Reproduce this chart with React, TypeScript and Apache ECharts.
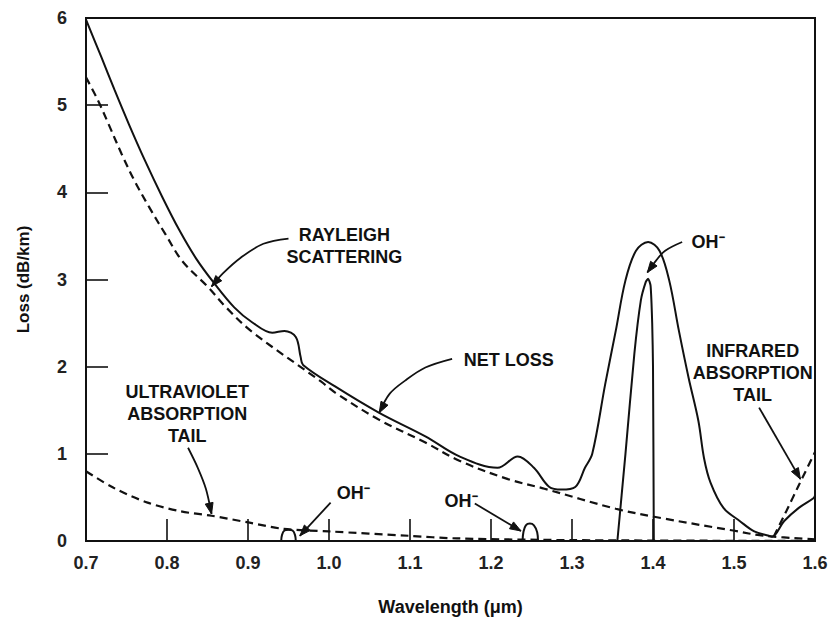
import React, { useEffect, useRef } from "react";
import * as echarts from "echarts";

type P = [number, number];

const X_MIN = 0.7;
const X_MAX = 1.6;
const X_STEP = 0.1;
const Y_MIN = 0;
const Y_MAX = 6;
const Y_STEP = 1;

const X_NAME = "Wavelength (μm)";
const Y_NAME = "Loss (dB/km)";

// Net loss (solid)
const netLoss: P[] = [
  [0.7, 5.98], [0.719, 5.55], [0.735, 5.18], [0.753, 4.78], [0.773, 4.36],
  [0.794, 3.95], [0.815, 3.57], [0.836, 3.24], [0.858, 2.96], [0.883, 2.68],
  [0.905, 2.51], [0.93, 2.39], [0.945, 2.41], [0.959, 2.34], [0.965, 2.11],
  [0.968, 2.02], [1.008, 1.77], [1.062, 1.47], [1.119, 1.2], [1.161, 0.97],
  [1.208, 0.84], [1.233, 0.97], [1.253, 0.84], [1.272, 0.62], [1.287, 0.59],
  [1.304, 0.62], [1.316, 0.84], [1.325, 1.0], [1.341, 1.8], [1.354, 2.41],
  [1.366, 2.99], [1.379, 3.33], [1.394, 3.43], [1.408, 3.33], [1.42, 2.99],
  [1.432, 2.41], [1.444, 1.87], [1.456, 1.38], [1.463, 0.95], [1.471, 0.67],
  [1.487, 0.38], [1.507, 0.23], [1.525, 0.11], [1.543, 0.06], [1.547, 0.05],
  [1.562, 0.23], [1.58, 0.38], [1.598, 0.49], [1.6, 0.52],
];

// Rayleigh scattering (dashed)
const rayleigh: P[] = [
  [0.7, 5.32], [0.715, 5.05], [0.728, 4.78], [0.744, 4.44], [0.76, 4.13],
  [0.778, 3.83], [0.798, 3.52], [0.819, 3.21], [0.851, 2.91], [0.873, 2.68],
  [0.905, 2.4], [0.99, 1.83], [1.008, 1.7], [1.062, 1.39], [1.119, 1.13],
  [1.161, 0.92], [1.221, 0.71], [1.266, 0.6], [1.354, 0.37], [1.412, 0.26],
  [1.499, 0.12], [1.537, 0.06], [1.6, 0.02],
];

// Ultraviolet absorption tail (dashed)
const uvTail: P[] = [
  [0.7, 0.8], [0.734, 0.61], [0.776, 0.44], [0.817, 0.34], [0.855, 0.29],
  [0.902, 0.21], [0.943, 0.14], [1.0, 0.11], [1.098, 0.06], [1.158, 0.03],
  [1.3, 0.01], [1.6, 0.0],
];

// Infrared absorption tail (dashed)
const irTail: P[] = [[1.549, 0.05], [1.565, 0.35], [1.58, 0.64], [1.6, 1.02]];

// OH- absorption peaks (solid)
const ohPeak095: P[] = [
  [0.941, 0], [0.942, 0.07], [0.945, 0.12], [0.95, 0.13], [0.955, 0.12], [0.958, 0.07], [0.959, 0],
];
const ohPeak124: P[] = [
  [1.239, 0], [1.24, 0.1], [1.243, 0.18], [1.248, 0.2], [1.253, 0.18], [1.257, 0.1], [1.258, 0],
];
const ohPeak139: P[] = [
  [1.356, 0], [1.366, 1.0], [1.377, 2.15], [1.385, 2.76], [1.391, 2.97], [1.394, 3.01],
  [1.397, 2.93], [1.399, 2.5], [1.4, 2.0], [1.401, 0],
];

// Annotations (data coordinates)
const labelTexts = [
  "RAYLEIGH\nSCATTERING",
  "NET LOSS",
  "ULTRAVIOLET\nABSORPTION\nTAIL",
  "OH⁻",
  "OH⁻",
  "OH⁻",
  "INFRARED\nABSORPTION\nTAIL",
];
const labelAnchors: P[] = [
  [1.019, 3.38], [1.222, 2.08], [0.825, 1.46], [1.03, 0.55], [1.163, 0.46], [1.468, 3.43], [1.523, 1.93],
];
const arrowPaths: P[][] = [
  [[0.95, 3.47], [0.919, 3.41], [0.891, 3.25], [0.869, 3.07], [0.855, 2.92]],
  [[1.152, 2.09], [1.119, 1.99], [1.094, 1.84], [1.075, 1.69], [1.062, 1.47]],
  [[0.826, 1.07], [0.838, 0.84], [0.848, 0.6], [0.855, 0.31]],
  [[1.002, 0.44], [0.964, 0.06]],
  [[1.18, 0.43], [1.237, 0.115]],
  [[1.436, 3.43], [1.415, 3.33], [1.404, 3.22], [1.393, 3.08]],
  [[1.531, 1.53], [1.582, 0.71]],
];
const arrowSmooth = [0.35, 0.35, 0.3, 0, 0, 0.35, 0];

const FONT = '"Liberation Sans", Arial, Helvetica, sans-serif';
const INK = "#111";

function arrowHead(tip: number[], from: number[], len = 11, half = 4): number[][] {
  const dx = tip[0] - from[0];
  const dy = tip[1] - from[1];
  const d = Math.hypot(dx, dy) || 1;
  const ux = dx / d;
  const uy = dy / d;
  const bx = tip[0] - ux * len;
  const by = tip[1] - uy * len;
  return [
    [tip[0], tip[1]],
    [bx - uy * half, by + ux * half],
    [bx + uy * half, by - ux * half],
  ];
}

export default function App() {
  const ref = useRef<HTMLDivElement>(null);

  useEffect(() => {
    if (!ref.current) return;
    const chart = echarts.init(ref.current, null, { renderer: "svg" });

    const solid = { color: INK, width: 2 };
    const dashed = { color: INK, width: 2.2, type: [8, 5] as any };

    const lineSeries = (name: string, data: P[], style: any, smooth: number) => ({
      name,
      type: "line",
      data,
      showSymbol: false,
      symbol: "none",
      smooth,
      lineStyle: style,
      silent: true,
      z: 3,
    });

    chart.setOption({
      animation: false,
      backgroundColor: "#fff",
      grid: {
        left: 86,
        right: 16,
        top: 18,
        bottom: 82,
        show: true,
        borderColor: INK,
        borderWidth: 2,
        containLabel: false,
      },
      xAxis: {
        type: "value",
        min: X_MIN,
        max: X_MAX,
        interval: X_STEP,
        name: X_NAME,
        nameLocation: "middle",
        nameGap: 57,
        nameTextStyle: { fontFamily: FONT, fontWeight: "bold", fontSize: 18, color: INK },
        axisLine: { show: true, lineStyle: { color: INK, width: 2 } },
        axisTick: { show: true, inside: true, length: 22, lineStyle: { color: INK, width: 1.6 } },
        axisLabel: {
          formatter: (v: number) => v.toFixed(1),
          fontFamily: FONT,
          fontWeight: "bold",
          fontSize: 18,
          color: "#222",
          margin: 13,
        },
        splitLine: { show: false },
      },
      yAxis: {
        type: "value",
        min: Y_MIN,
        max: Y_MAX,
        interval: Y_STEP,
        name: Y_NAME,
        nameLocation: "middle",
        nameGap: 54,
        nameTextStyle: { fontFamily: FONT, fontWeight: "bold", fontSize: 17, color: INK },
        axisLine: { show: true, lineStyle: { color: INK, width: 2 } },
        axisTick: { show: true, inside: true, length: 22, lineStyle: { color: INK, width: 1.6 } },
        axisLabel: {
          fontFamily: FONT,
          fontWeight: "bold",
          fontSize: 18,
          color: "#222",
          margin: 19,
        },
        splitLine: { show: false },
      },
      series: [
        lineSeries("Net loss", netLoss, solid, 0.35),
        lineSeries("Rayleigh scattering", rayleigh, dashed, 0.35),
        lineSeries("Ultraviolet absorption tail", uvTail, dashed, 0.3),
        lineSeries("Infrared absorption tail", irTail, dashed, 0.2),
        lineSeries("OH- 0.95", ohPeak095, solid, 0.4),
        lineSeries("OH- 1.24", ohPeak124, solid, 0.4),
        lineSeries("OH- 1.39", ohPeak139, solid, 0.2),
      ],
    });

    const px = (p: P) => chart.convertToPixel({ gridIndex: 0 }, p) as number[];

    const graphics: any[] = [];
    labelTexts.forEach((t, i) => {
      const [x, y] = px(labelAnchors[i]);
      graphics.push({
        type: "text",
        x,
        y,
        z: 10,
        style: {
          text: t,
          fontFamily: FONT,
          fontWeight: "bold",
          fontSize: 18,
          lineHeight: 22,
          fill: INK,
          align: "center",
          verticalAlign: "middle",
          textAlign: "center",
          textVerticalAlign: "middle",
        },
      });
    });
    arrowPaths.forEach((path, i) => {
      const pts = path.map(px);
      graphics.push({
        type: "polyline",
        z: 10,
        shape: { points: pts, smooth: arrowSmooth[i] },
        style: { stroke: INK, lineWidth: 1.8, fill: null },
      });
      const tip = pts[pts.length - 1];
      const from = pts[pts.length - 2];
      graphics.push({
        type: "polygon",
        z: 10,
        shape: { points: arrowHead(tip, from) },
        style: { fill: INK, stroke: INK, lineWidth: 1 },
      });
    });

    chart.setOption({ graphic: graphics });

    return () => chart.dispose();
  }, []);

  return (
    <div
      ref={ref}
      style={{ position: "fixed", left: 0, top: 0, width: 831, height: 623, background: "#fff" }}
    />
  );
}
